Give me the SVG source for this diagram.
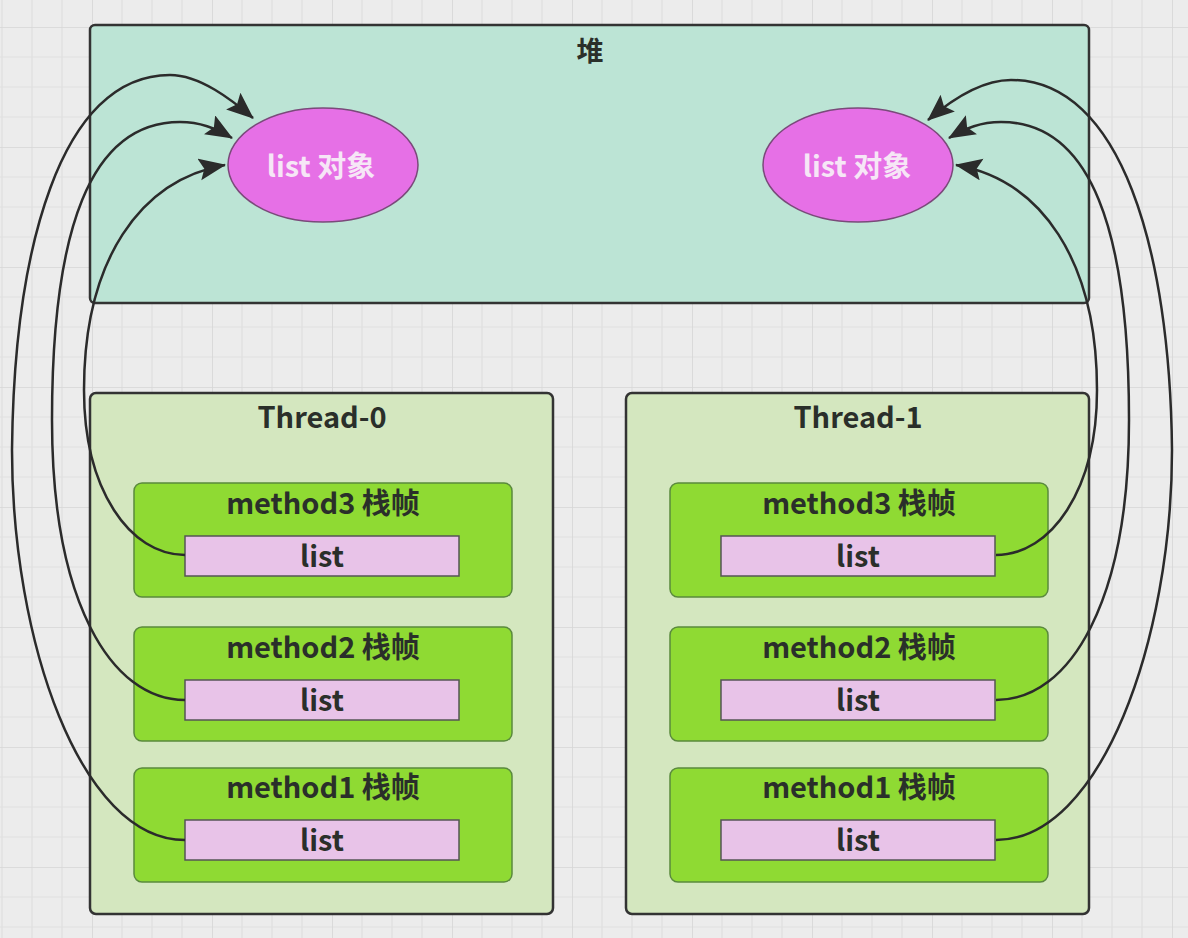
<svg xmlns="http://www.w3.org/2000/svg" width="1188" height="938" viewBox="0 0 1188 938">
<defs>
<pattern id="grid" patternUnits="userSpaceOnUse" x="92" y="27" width="120" height="120">
<path d="M30,0V120M60,0V120M90,0V120M0,30H120M0,60H120M0,90H120" stroke="#e0e0e0" stroke-width="1.2" fill="none"/>
<path d="M0,0V120M0,0H120" stroke="#d6d6d6" stroke-width="1.6" fill="none"/>
</pattern>
<marker id="arr" markerUnits="userSpaceOnUse" markerWidth="32" markerHeight="24" refX="26" refY="11" orient="auto">
<path d="M0,0 L27,11 L0,22 L5,11 Z" fill="#2b2b2b"/>
</marker>
<style>
.t{font-family:"Noto Sans CJK SC","Noto Sans",sans-serif;font-weight:bold;text-anchor:middle;dominant-baseline:central;fill:#2a2f2a}
.heap{fill:#bce4d5;stroke:#333;stroke-width:2.5}
.thread{fill:#d4e7bf;stroke:#333;stroke-width:2.5}
.method{fill:#8fda33;stroke:#5a8a3d;stroke-width:1.5}
.list{fill:#e8c3e8;stroke:#555;stroke-width:1.5}
.obj{fill:#e670e6;stroke:#7a4a7a;stroke-width:1.5}
.conn{fill:none;stroke:#2b2b2b;stroke-width:2.5;marker-end:url(#arr)}
</style>
</defs>
<rect width="1188" height="938" fill="#ececec"/>
<rect width="1188" height="938" fill="url(#grid)"/>

<g id="heap">
<rect class="heap" x="90" y="25" width="999" height="278" rx="5"/>
<text class="t" x="590" y="49" font-size="27">堆</text>
</g>

<g id="thread0">
<rect class="thread" x="90" y="393" width="463" height="521" rx="6"/>
<text class="t" x="322" y="415" font-size="29">Thread-0</text>
</g>
<g id="thread1">
<rect class="thread" x="626" y="393" width="463" height="521" rx="6"/>
<text class="t" x="858" y="415" font-size="29">Thread-1</text>
</g>

<g id="t0-method3">
<rect class="method" x="134" y="483" width="378" height="114" rx="8"/>
<text class="t" x="323" y="501" font-size="29">method3 栈帧</text>
<rect class="list" x="185" y="536" width="274" height="40"/>
<text class="t" x="322" y="554" font-size="29">list</text>
</g>
<g id="t0-method2">
<rect class="method" x="134" y="627" width="378" height="114" rx="8"/>
<text class="t" x="323" y="645" font-size="29">method2 栈帧</text>
<rect class="list" x="185" y="680" width="274" height="40"/>
<text class="t" x="322" y="698" font-size="29">list</text>
</g>
<g id="t0-method1">
<rect class="method" x="134" y="768" width="378" height="114" rx="8"/>
<text class="t" x="323" y="785" font-size="29">method1 栈帧</text>
<rect class="list" x="185" y="820" width="274" height="40"/>
<text class="t" x="322" y="838" font-size="29">list</text>
</g>

<g id="t1-method3">
<rect class="method" x="670" y="483" width="378" height="114" rx="8"/>
<text class="t" x="859" y="501" font-size="29">method3 栈帧</text>
<rect class="list" x="721" y="536" width="274" height="40"/>
<text class="t" x="858" y="554" font-size="29">list</text>
</g>
<g id="t1-method2">
<rect class="method" x="670" y="627" width="378" height="114" rx="8"/>
<text class="t" x="859" y="645" font-size="29">method2 栈帧</text>
<rect class="list" x="721" y="680" width="274" height="40"/>
<text class="t" x="858" y="698" font-size="29">list</text>
</g>
<g id="t1-method1">
<rect class="method" x="670" y="768" width="378" height="114" rx="8"/>
<text class="t" x="859" y="785" font-size="29">method1 栈帧</text>
<rect class="list" x="721" y="820" width="274" height="40"/>
<text class="t" x="858" y="838" font-size="29">list</text>
</g>

<g id="obj-left">
<ellipse class="obj" cx="323" cy="165" rx="95" ry="57"/>
<text class="t" x="321" y="164" font-size="29" style="fill:#f6e6f6">list 对象</text>
</g>
<g id="obj-right">
<ellipse class="obj" cx="858" cy="165" rx="95" ry="57"/>
<text class="t" x="857" y="164" font-size="29" style="fill:#f6e6f6">list 对象</text>
</g>

<g id="connectors">
<path class="conn" d="M185,840 C80,840 12,640 12,450 C14,250 60,75 170,75 C200,75 232,100 253,118"/>
<path class="conn" d="M185,700 C110,700 52,600 52,420 C52,230 90,122 180,122 C200,122 215,128 232,138"/>
<path class="conn" d="M185,555 C130,555 84,490 84,390 C84,260 140,180 225,165"/>
<path class="conn" d="M996,840 C1101,840 1172,640 1172,450 C1170,250 1121,80 1011,80 C981,80 949,102 928,120"/>
<path class="conn" d="M996,700 C1071,700 1129,600 1129,420 C1129,230 1091,122 1001,122 C981,122 966,128 949,138"/>
<path class="conn" d="M996,555 C1051,555 1097,490 1097,390 C1097,260 1041,180 956,165"/>
</g>
</svg>
